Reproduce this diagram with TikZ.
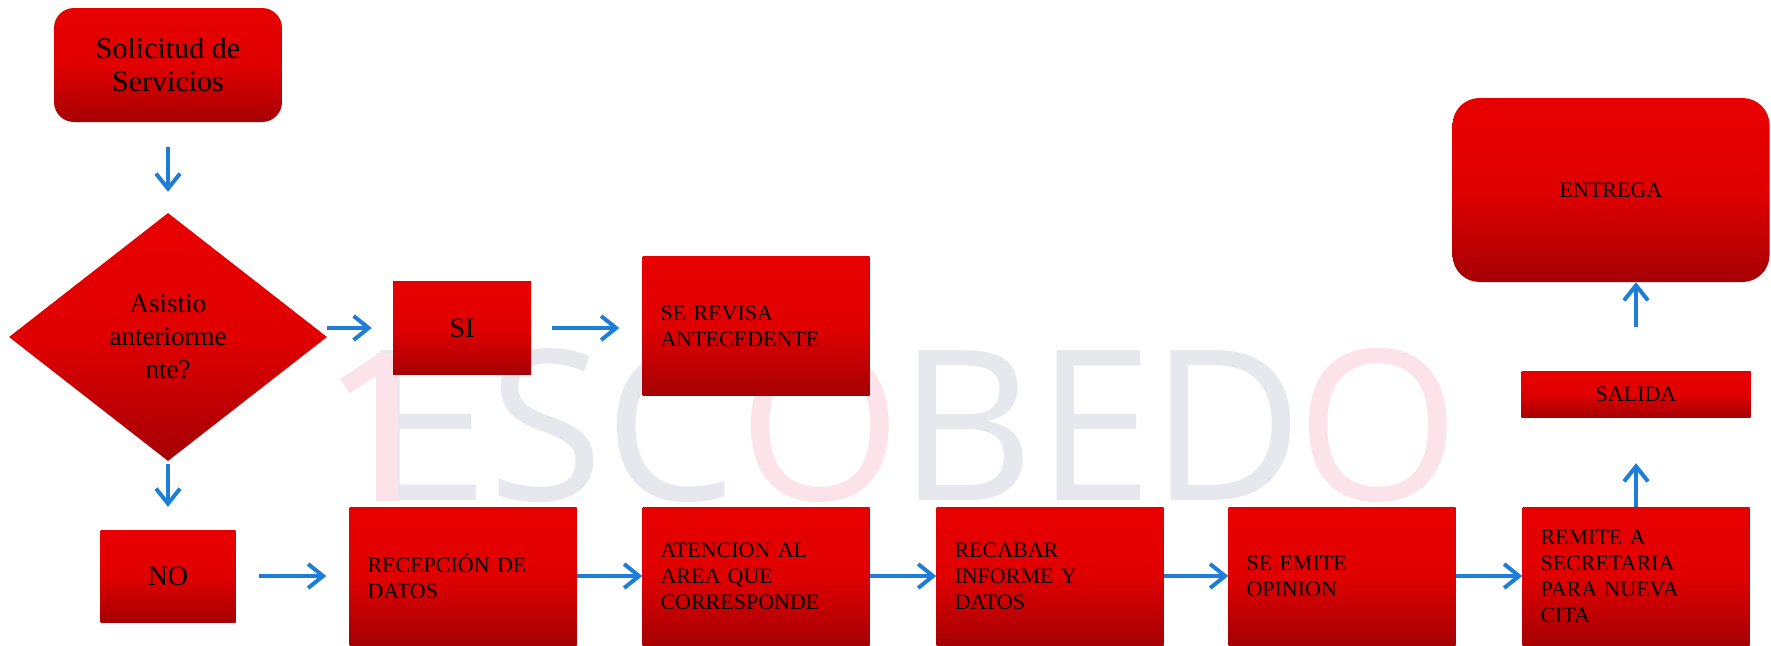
\documentclass[tikz,border=0pt]{standalone}
\usepackage{fontspec}
\setmainfont{Liberation Serif}
\newfontfamily\wmfont{Open Sans}
\usetikzlibrary{shapes.geometric,arrows.meta}
\definecolor{redtop}{RGB}{232,0,0}
\definecolor{redbot}{RGB}{165,0,4}
\definecolor{arrblue}{RGB}{30,125,215}
\definecolor{wmgray}{RGB}{231,232,238}
\definecolor{wmpink}{RGB}{252,227,234}
\begin{document}
\begin{tikzpicture}[x=1pt,y=-1pt,
  redfill/.style={top color=redtop, bottom color=redbot, middle color=redtop!88!redbot, draw=none, text=black, inner sep=0pt},
  procbox/.style={redfill, minimum width=227pt, minimum height=138pt, text width=191pt, inner xsep=18pt, align=left, font=\fontsize{22}{26}\selectfont},
  capbox/.style={redfill, align=center, font=\fontsize{22}{26}\selectfont},
  bigbox/.style={redfill, align=center, font=\fontsize{28}{33}\selectfont},
  arr/.style={draw=arrblue, line width=4pt, -{Straight Barb[length=15pt,width=24pt]}},
  wm/.style={font=\wmfont\fontsize{210}{210}\selectfont, inner sep=0pt, anchor=base},
]
\useasboundingbox (0,0) rectangle (1771,645);
\fill[white] (0,0) rectangle (1771,645);

% watermark
\node[wm, anchor=base west, text=wmgray, xscale=1.15] (wE1) at (356,500) {E};
\node[wm, text=wmgray] (wS) at (546,500) {S};
\node[wm, text=wmgray] (wC) at (671,500) {C};
\node[wm, text=wmpink] (wO1) at (820,500) {O};
\node[wm, text=wmgray] (wB) at (967,500) {B};
\node[wm, text=wmgray] (wE2) at (1095,500) {E};
\node[wm, text=wmgray] (wD) at (1227,500) {D};
\node[wm, text=wmpink] (wO2) at (1378,500) {O};
\fill[wmpink] (376,353) rectangle (398,501);
\draw[wmpink, line width=17pt] (345,386) -- (386,359);

% nodes
\node[redfill, rounded corners=20pt, minimum width=228pt, minimum height=114pt, align=center, font=\fontsize{30}{33}\selectfont] (sol) at (168,65) {Solicitud de\\Servicios};
\node[redfill, diamond, aspect=1.28, minimum width=318pt, minimum height=248pt, align=center, font=\fontsize{27}{33}\selectfont] (dia) at (168,337) {Asistio\\anteriorme\\nte?};
\node[bigbox, minimum width=138pt, minimum height=93pt] (si) at (462,328) {SI};
\node[procbox, minimum height=139pt] (rev) at (756,326) {SE REVISA\\ANTECEDENTE};
\node[bigbox, minimum width=135pt, minimum height=92pt] (no) at (168,576) {NO};
\node[procbox] (rec) at (463,576) {RECEPCIÓN DE\\DATOS};
\node[procbox] (ate) at (756,576) {ATENCION AL\\AREA QUE\\CORRESPONDE};
\node[procbox] (rca) at (1050,576) {RECABAR\\INFORME Y\\DATOS};
\node[procbox] (emi) at (1342,576) {SE EMITE\\OPINION};
\node[procbox] (rem) at (1636,576) {REMITE A\\SECRETARIA\\PARA NUEVA\\CITA};
\node[capbox, minimum width=229pt, minimum height=46pt] (sal) at (1636,394) {SALIDA};
\node[capbox, rounded corners=27pt, minimum width=317pt, minimum height=184pt] (ent) at (1611,190) {ENTREGA};

% connectors
\draw[arr, shorten <=25pt, shorten >=21pt] (sol) -- (dia);
\draw[arr, shorten >=21pt] (dia.east |- si.west) -- (si.west);
\draw[arr, shorten <=21pt, shorten >=23pt] (si.east) -- (si.east -| rev.west);
\draw[arr, shorten <=3pt, shorten >=23pt] (dia.south) -- (no.north);
\draw[arr, shorten <=23pt, shorten >=23pt] (no.east) -- (rec.west);
\draw[arr] (rec.east) -- (ate.west);
\draw[arr] (ate.east) -- (rca.west);
\draw[arr] (rca.east) -- (emi.west);
\draw[arr] (emi.east) -- (rem.west);
\draw[arr, shorten >=46pt] (rem.north) -- (sal.south);
\draw[arr, shorten <=44pt] (sal.north) -- (sal.north |- ent.south);
\end{tikzpicture}
\end{document}
